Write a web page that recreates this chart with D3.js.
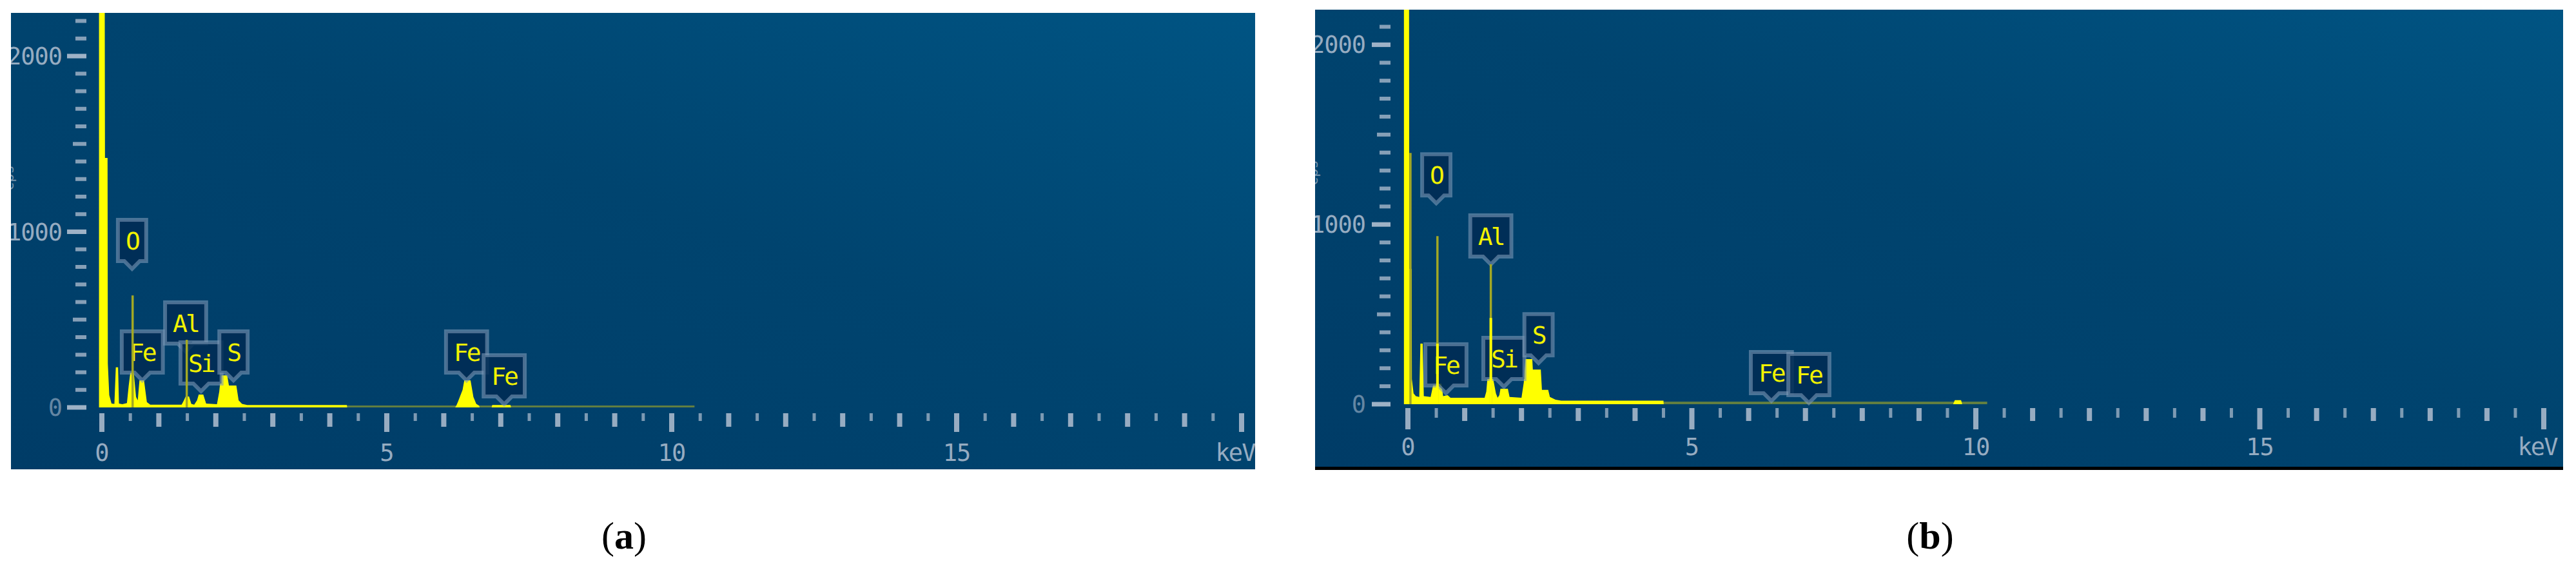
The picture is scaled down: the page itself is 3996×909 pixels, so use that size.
<!DOCTYPE html>
<html>
<head>
<meta charset="utf-8">
<script src="https://cdn.jsdelivr.net/npm/d3@7/dist/d3.min.js"></script>
<style>
body { margin: 0; background: #fff; }
</style>
</head>
<body>
<svg id="fig" width="3996" height="909"></svg>
<script>
// ---- panel (a) spectrum, keV / counts ----
var keVA = [-0.05, 0.05, 0.055, 0.10, 0.105, 0.13, 0.17, 0.22, 0.245, 0.285, 0.30, 0.36, 0.44, 0.47, 0.50, 0.56, 0.60, 0.63,
            0.66, 0.74, 0.79, 0.85, 1.40, 1.44, 1.47, 1.53, 1.57, 1.62, 1.67, 1.70, 1.78, 1.83, 2.02, 2.06, 2.09, 2.20,
            2.23, 2.36, 2.40, 2.46, 2.55, 4.30, 4.305, 6.20, 6.22, 6.25, 6.33, 6.36, 6.47, 6.52, 6.57, 6.62, 6.63,
            6.84, 6.85, 7.17, 7.18];
var cntA = [2400, 2400, 1420, 1420, 250, 70, 22, 20, 228, 228, 22, 18, 25, 120, 198, 198, 60, 40,
            154, 154, 30, 16, 16, 40, 62, 62, 20, 16, 40, 73, 73, 22, 18, 90, 183, 183,
            125, 125, 40, 20, 14, 14, 0, 0, 10, 33, 100, 154, 154, 60, 20, 10, 0,
            0, 14, 14, 0];
// faint tail of the background
var tailKeVA = [4.30, 10.4];
var tailCntA = [11, 11];
// single-channel spikes (thin, dim)
var spikeKeVA = [0.54, 1.49];
var spikeCntA = [638, 385];
var spikeBrightA = [false, false];
// peak labels
var labelsA = ["O", "Fe", "Al", "Si", "S", "Fe", "Fe"];
var labelKeVA = [0.53, 0.71, 1.47, 1.74, 2.31, 6.40, 7.06];
var labelCntA = [789, 154, 319, 92, 154, 154, 18];

// ---- panel (b) ----
var keVB = [-0.07, 0.02, 0.025, 0.065, 0.07, 0.10, 0.14, 0.20, 0.22, 0.26, 0.28, 0.40, 0.45, 0.59, 0.62, 0.70, 0.75,
            1.35, 1.38, 1.40, 1.50, 1.55, 1.58, 1.61, 1.63, 1.76, 1.79, 2.00, 2.04, 2.07, 2.19, 2.20, 2.34, 2.36,
            2.47, 2.50, 2.60, 2.70, 4.50, 4.505, 9.60, 9.63, 9.74, 9.76];
var cntB = [2300, 2300, 753, 753, 140, 60, 45, 40, 337, 337, 45, 40, 115, 115, 45, 50, 36,
            36, 70, 143, 143, 60, 36, 50, 86, 86, 40, 36, 120, 251, 251, 193, 193, 80,
            80, 40, 25, 20, 20, 0, 0, 22, 22, 0];
var tailKeVB = [4.50, 10.2];
var tailCntB = [14, 14];
var spikeKeVB = [0.045, 0.52, 1.46, 0.52, 1.46];
var spikeCntB = [1398, 935, 778, 337, 480];
var spikeBrightB = [false, false, false, true, true];
var labelsB = ["O", "Fe", "Al", "Si", "S", "Fe", "Fe"];
var labelKeVB = [0.50, 0.67, 1.46, 1.69, 2.30, 6.40, 7.06];
var labelCntB = [1118, 61, 778, 97, 229, 18, 7];

// axis labels
var yTickLabels = ["0", "1000", "2000"];
var xTickLabels = ["0", "5", "10", "15"];
var xUnit = "keV";
var yTitle = "cps";

var svg = d3.select("#fig");
var defs = svg.append("defs");

var grad = defs.append("linearGradient").attr("id", "bg")
  .attr("x1", "0%").attr("y1", "100%").attr("x2", "100%").attr("y2", "0%");
grad.append("stop").attr("offset", "0%").attr("stop-color", "#003c67");
grad.append("stop").attr("offset", "55%").attr("stop-color", "#00446f");
grad.append("stop").attr("offset", "100%").attr("stop-color", "#005483");

var axisCol = "#a7b8cb";
var yellow = "#ffff00";
var olive = "#a3a824";

function zip(a, b) { return a.map(function(d, i) { return [d, b[i]]; }); }

function drawPanel(id, p, spec, tail, spikes, labels) {
  defs.append("clipPath").attr("id", "clip" + id).append("rect")
    .attr("x", p.left).attr("y", p.top)
    .attr("width", p.right - p.left).attr("height", p.bottom - p.top);

  var g = svg.append("g").attr("clip-path", "url(#clip" + id + ")");
  g.append("rect")
    .attr("x", p.left).attr("y", p.top)
    .attr("width", p.right - p.left).attr("height", p.bottom - p.top)
    .attr("fill", "url(#bg)");

  var x = d3.scaleLinear().domain([0, 20]).range([p.x0, p.x20]);
  var y = d3.scaleLinear().domain([0, 2000]).range([p.y0, p.y2000]);
  var yMax = Math.floor(y.invert(p.top) / 100) * 100;

  // y ticks every 100 counts
  var yt = g.append("g");
  d3.range(0, yMax + 1, 100).forEach(function(v) {
    var len = v % 1000 == 0 ? p.yMajor : (v % 500 == 0 ? p.yMed : p.yMinor);
    var h = v % 1000 == 0 ? 7 : 6;
    yt.append("rect")
      .attr("x", p.x0 - p.yGap - len).attr("y", y(v) - h / 2)
      .attr("width", len).attr("height", h)
      .attr("fill", axisCol).attr("opacity", v % 1000 == 0 ? 0.95 : 0.8);
  });
  yTickLabels.forEach(function(t) {
    g.append("text")
      .attr("x", p.x0 - p.yLabGap).attr("y", y(+t) + 13)
      .attr("text-anchor", "end")
      .attr("font-family", "DejaVu Sans Mono").attr("font-size", 37)
      .attr("letter-spacing", -1)
      .attr("fill", axisCol).attr("opacity", t == "0" ? 0.6 : 0.9)
      .text(t);
  });
  // axis title, only its edge shows at the left border
  g.append("text")
    .attr("transform", "translate(" + (p.left + 4) + "," + p.titleY + ") rotate(-90)")
    .attr("text-anchor", "middle")
    .attr("font-family", "DejaVu Sans Mono").attr("font-size", 22)
    .attr("fill", axisCol).attr("opacity", 0.7)
    .text(yTitle);

  // x ticks every 0.5 keV
  var xt = g.append("g");
  d3.range(0, 20.01, 0.5).forEach(function(v) {
    var major = Math.abs(v % 5) < 1e-6, whole = Math.abs(v % 1) < 1e-6;
    var len = major ? p.xMajor : (whole ? p.xMed : p.xMinor);
    var w = (major || whole) ? 8 : 5;
    xt.append("rect")
      .attr("x", x(v) - w / 2).attr("y", p.y0 + p.xGap)
      .attr("width", w).attr("height", len)
      .attr("fill", axisCol).attr("opacity", whole ? 0.9 : 0.75);
  });
  xTickLabels.forEach(function(t) {
    g.append("text")
      .attr("x", x(+t)).attr("y", p.xLabY)
      .attr("text-anchor", "middle")
      .attr("font-family", "DejaVu Sans Mono").attr("font-size", 37)
      .attr("letter-spacing", -1)
      .attr("fill", axisCol).attr("opacity", 0.9)
      .text(t);
  });
  g.append("text")
    .attr("x", x(20) - 10).attr("y", p.xLabY)
    .attr("text-anchor", "middle")
    .attr("font-family", "DejaVu Sans Mono").attr("font-size", 37)
    .attr("letter-spacing", -2)
    .attr("fill", axisCol).attr("opacity", 0.9)
    .text(xUnit);

  // spectrum
  var area = d3.area()
    .x(function(d) { return x(d[0]); })
    .y0(y(0))
    .y1(function(d) { return y(d[1]); });

  g.append("path").datum(tail).attr("d", area)
    .attr("fill", olive).attr("opacity", 0.6);
  g.append("path").datum(spec).attr("d", area)
    .attr("fill", yellow);

  // labels
  var bh = 64, tip = 12;
  labels.forEach(function(l) {
    var lg = g.append("g").attr("transform", "translate(" + x(l.e) + "," + y(l.c) + ")");
    var txt = lg.append("text")
      .attr("x", 0).attr("y", -tip - bh / 2 + 14)
      .attr("text-anchor", "middle")
      .attr("font-family", "DejaVu Sans Mono").attr("font-size", 38)
      .attr("letter-spacing", -3)
      .attr("fill", "#f2f200")
      .text(l.t);
    var w = Math.max(40, txt.node().getComputedTextLength() + 24);
    var pts = [[0, 0], [-12, -tip], [-w / 2, -tip], [-w / 2, -tip - bh], [w / 2, -tip - bh], [w / 2, -tip], [12, -tip]];
    lg.insert("path", "text")
      .attr("d", d3.line()(pts) + "Z")
      .attr("fill", "#002c54").attr("fill-opacity", 0.85)
      .attr("stroke", "#7b98b5").attr("stroke-opacity", 0.6)
      .attr("stroke-width", 6).attr("stroke-linejoin", "miter");
  });

  // thin spikes on top
  spikes.forEach(function(s) {
    g.append("line")
      .attr("x1", x(s.e)).attr("x2", x(s.e))
      .attr("y1", y(0)).attr("y2", y(s.c))
      .attr("stroke", s.b ? yellow : olive)
      .attr("stroke-width", s.b ? 4 : 3.5);
  });

  if (p.border) {
    svg.append("rect")
      .attr("x", p.left).attr("y", p.bottom)
      .attr("width", p.right - p.left).attr("height", 5)
      .attr("fill", "#000");
  }
}

function labelData(t, e, c) { return t.map(function(d, i) { return { t: d, e: e[i], c: c[i] }; }); }
function spikeData(e, c, b) { return e.map(function(d, i) { return { e: d, c: c[i], b: b[i] }; }); }

drawPanel("a", {
  left: 17, top: 20, right: 1947, bottom: 728,
  x0: 158, x20: 1926, y0: 632, y2000: 87, titleY: 276,
  yGap: 24, yLabGap: 62, yMajor: 30, yMed: 21, yMinor: 17,
  xGap: 9, xMajor: 29, xMed: 21, xMinor: 12, xLabY: 715,
  border: false
}, zip(keVA, cntA), zip(tailKeVA, tailCntA), spikeData(spikeKeVA, spikeCntA, spikeBrightA),
   labelData(labelsA, labelKeVA, labelCntA));

drawPanel("b", {
  left: 2040, top: 15, right: 3976, bottom: 724,
  x0: 2184, x20: 3946, y0: 627, y2000: 69.4, titleY: 268,
  yGap: 27, yLabGap: 66, yMajor: 29, yMed: 21, yMinor: 17,
  xGap: 6, xMajor: 33, xMed: 20, xMinor: 15, xLabY: 706,
  border: true
}, zip(keVB, cntB), zip(tailKeVB, tailCntB), spikeData(spikeKeVB, spikeCntB, spikeBrightB),
   labelData(labelsB, labelKeVB, labelCntB));

// captions
[["a", 968], ["b", 2994]].forEach(function(c) {
  var t = svg.append("text")
    .attr("x", c[1]).attr("y", 851)
    .attr("text-anchor", "middle")
    .attr("font-family", "Liberation Serif").attr("font-size", 60)
    .attr("fill", "#000");
  t.append("tspan").text("(");
  t.append("tspan").attr("font-weight", "bold").text(c[0]);
  t.append("tspan").text(")");
});
</script>
</body>
</html>
